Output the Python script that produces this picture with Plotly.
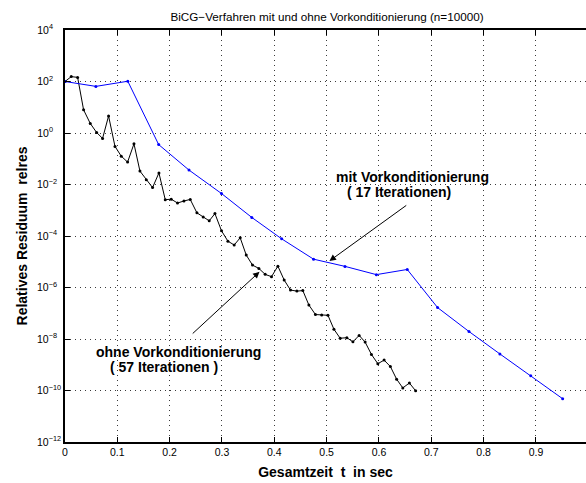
import plotly.graph_objects as go

FONT = "Liberation Sans, Arial, Helvetica, sans-serif"

# Blue: with preconditioning (time in s, relative residual)
t_mit = [0.0, 0.059, 0.120, 0.179, 0.237, 0.299, 0.357, 0.414, 0.475, 0.535,
         0.595, 0.654, 0.712, 0.772, 0.831, 0.890, 0.951]
log_res_mit = [2.00, 1.81, 2.01, -0.45, -1.44, -2.35, -3.28, -4.11, -4.90, -5.18,
               -5.50, -5.30, -6.78, -7.71, -8.58, -9.43, -10.32]

# Black: without preconditioning
t_ohne = [0.0, 0.0120, 0.0241, 0.0355, 0.0483, 0.0604, 0.0718, 0.0833, 0.0955, 0.1075,
          0.1196, 0.1318, 0.1432, 0.1553, 0.1673, 0.1795, 0.1916, 0.2030, 0.2150, 0.2273,
          0.2393, 0.2521, 0.2641, 0.2756, 0.2865, 0.2991, 0.3113, 0.3233, 0.3348, 0.3463,
          0.3583, 0.3705, 0.3825, 0.3946, 0.4068, 0.4188, 0.4309, 0.4431, 0.4545, 0.4660,
          0.4786, 0.4905, 0.5025, 0.5139, 0.5258, 0.5386, 0.5502, 0.5621, 0.5735, 0.5856,
          0.5978, 0.6098, 0.6218, 0.6337, 0.6455, 0.6581, 0.6700]
log_res_ohne = [2.00, 2.19, 2.16, 0.90, 0.37, 0.02, -0.21, 0.66, -0.52, -0.90,
                -1.13, -0.42, -1.48, -1.82, -2.12, -1.55, -2.59, -2.57, -2.72, -2.64,
                -2.58, -3.10, -3.26, -3.41, -3.13, -3.80, -4.20, -4.35, -4.07, -4.74,
                -5.13, -5.26, -5.49, -5.58, -5.17, -5.71, -6.10, -6.14, -6.12, -6.68,
                -7.05, -7.07, -7.08, -7.62, -7.97, -7.95, -8.11, -7.86, -8.12, -8.60,
                -8.96, -8.82, -9.07, -9.56, -9.90, -9.71, -10.01]

res_mit = [10 ** v for v in log_res_mit]
res_ohne = [10 ** v for v in log_res_ohne]

x_ticks = [0, 0.1, 0.2, 0.3, 0.4, 0.5, 0.6, 0.7, 0.8, 0.9, 1.0]
x_ticktext = ["0", "0.1", "0.2", "0.3", "0.4", "0.5", "0.6", "0.7", "0.8", "0.9", "1"]
y_exps = [4, 2, 0, -2, -4, -6, -8, -10, -12]

FS = "\u2007"
def ylab(e):
    s = str(e).replace("-", "\u2212")
    if e >= 0:
        pad = FS * 2
    elif e > -10:
        pad = FS * 1
    else:
        pad = ""
    return "10<sup>" + s + pad + "</sup>"

y_ticks = [10.0 ** e for e in y_exps]
y_ticktext = [ylab(e) for e in y_exps]

fig = go.Figure()
fig.add_trace(go.Scatter(x=t_ohne, y=res_ohne, mode="lines+markers",
                         line=dict(color="black", width=1),
                         marker=dict(color="black", size=3), showlegend=False))
fig.add_trace(go.Scatter(x=t_mit, y=res_mit, mode="lines+markers",
                         line=dict(color="#0000ff", width=1),
                         marker=dict(color="#0000ff", size=3), showlegend=False))

axis_common = dict(showline=True, linecolor="black", linewidth=1.5,
                   ticks="inside", ticklen=5, tickcolor="black", tickwidth=1,
                   showgrid=True, gridcolor="#3a3a3a", griddash="1px,4px", gridwidth=1,
                   zeroline=False, tickfont=dict(family=FONT, size=10.5, color="black"))

fig.update_layout(
    width=586, height=483,
    margin=dict(l=65, r=0, t=30, b=41),
    paper_bgcolor="white", plot_bgcolor="white",
    font=dict(family=FONT, color="black"),
    title=dict(text="BiCG\u2212Verfahren mit und ohne Vorkonditionierung (n=10000)",
               font=dict(family=FONT, size=11.7, color="black"),
               xref="container", x=0.558, xanchor="center",
               yref="container", y=1 - 16.7 / 483, yanchor="middle"),
    xaxis=dict(range=[0, 0.9956], tickvals=x_ticks, ticktext=x_ticktext,
               mirror="ticks",
               title=dict(text="<b>Gesamtzeit  t  in sec</b>",
                          font=dict(family=FONT, size=14, color="black"), standoff=10),
               **axis_common),
    yaxis=dict(type="log", range=[-12, 4], tickvals=y_ticks, ticktext=y_ticktext,
               mirror=False,
               title=dict(text="<b>Relatives Residuum  relres</b>",
                          font=dict(family=FONT, size=14, color="black"), standoff=6),
               **axis_common),
)

ann_font = dict(family=FONT, size=14, color="black")
fig.add_annotation(x=0.6633, y=-1.71, xref="x", yref="y", text="<b>mit Vorkonditionierung</b>",
                   showarrow=False, font=ann_font)
fig.add_annotation(x=0.6385, y=-2.31, xref="x", yref="y", text="<b>( 17 Iterationen)</b>",
                   showarrow=False, font=ann_font)
fig.add_annotation(x=0.2164, y=-8.49, xref="x", yref="y", text="<b>ohne Vorkonditionierung</b>",
                   showarrow=False, font=ann_font)
fig.add_annotation(x=0.1897, y=-9.09, xref="x", yref="y", text="<b>( 57 Iterationen )</b>",
                   showarrow=False, font=ann_font)

# arrows
fig.add_annotation(x=0.5053, y=-4.97, xref="x", yref="y", ax=0.655, ay=-2.77,
                   axref="x", ayref="y", text="", showarrow=True,
                   arrowhead=2, arrowsize=1.3, arrowwidth=1, arrowcolor="black")
fig.add_annotation(x=0.3717, y=-5.39, xref="x", yref="y", ax=0.2412, ay=-7.84,
                   axref="x", ayref="y", text="", showarrow=True,
                   arrowhead=2, arrowsize=1.3, arrowwidth=1, arrowcolor="black")

fig.write_html("out.html", config={"displayModeBar": False})
